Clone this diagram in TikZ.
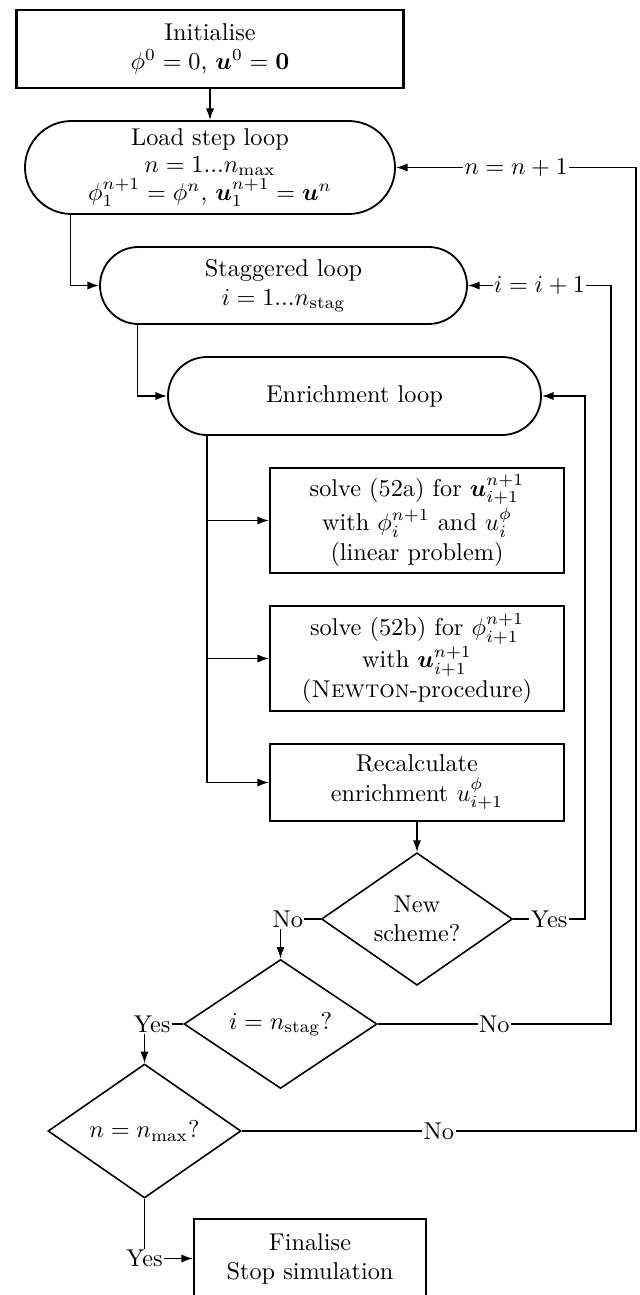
\documentclass[tikz,border=0pt]{standalone}
\usepackage{amsmath,bm}
\usetikzlibrary{shapes.geometric,arrows.meta,calc}
\begin{document}
\begin{tikzpicture}[x=0.4115pt,y=-0.4115pt,
  rectbox/.style={draw,line width=0.85pt,rectangle,inner sep=0pt,align=center},
  loopbox/.style={draw,line width=0.75pt,rectangle,inner sep=0pt,align=center},
  decide/.style={draw,line width=0.65pt,diamond,inner sep=0pt,align=center},
  arr/.style={-{Latex[length=4.8pt,width=3.4pt]},line width=0.65pt},
  lbl/.style={fill=white,inner sep=0.6pt}]
\useasboundingbox (0,0) rectangle (639,1295);

\node[rectbox,minimum width=159.25pt,minimum height=32.1pt] (init) at (210,49)
  {Initialise\\ $\phi^0=0$, $\bm{u}^0=\mathbf{0}$};
\node[loopbox,minimum width=152.26pt,minimum height=38.27pt,rounded corners=19.13pt] (load) at (210,167.5)
  {Load step loop\\[-1pt] $n=1...n_{\max}$\\[-0.5pt] $\phi_1^{n+1}=\phi^n$, $\bm{u}_1^{n+1}=\bm{u}^n$};
\node[loopbox,minimum width=151.02pt,minimum height=31.69pt,rounded corners=15.84pt] (stag) at (283.5,285.5)
  {Staggered loop\\ $i=1...n_{\mathrm{stag}}$};
\node[loopbox,minimum width=153.49pt,minimum height=32.1pt,rounded corners=16.05pt] (enr) at (354.5,396)
  {Enrichment loop};
\node[rectbox,minimum width=120.98pt,minimum height=43.21pt] (s1) at (417,520.5)
  {solve (52a) for $\bm{u}_{i+1}^{n+1}$\\ with $\phi_i^{n+1}$ and $u_i^{\phi}$\\ (linear problem)};
\node[rectbox,minimum width=120.98pt,minimum height=43.21pt] (s2) at (417,658.5)
  {solve (52b) for $\phi_{i+1}^{n+1}$\\ with $\bm{u}_{i+1}^{n+1}$\\ (\textsc{Newton}-procedure)};
\node[rectbox,minimum width=120.98pt,minimum height=31.69pt] (s3) at (417,782.5)
  {Recalculate\\ enrichment $u_{i+1}^{\phi}$};
\node[decide,minimum width=78.6pt,minimum height=52.67pt] (d1) at (417,919)
  {New\\ scheme?};
\node[decide,minimum width=79.42pt,minimum height=53.08pt] (d2) at (280.5,1024)
  {$i=n_{\mathrm{stag}}$?};
\node[decide,minimum width=79.42pt,minimum height=55.14pt] (d3) at (144.5,1131)
  {$n=n_{\max}$?};
\node[rectbox,minimum width=95.47pt,minimum height=32.51pt] (fin) at (310,1258.5)
  {Finalise\\ Stop simulation};

\coordinate (cA) at (585,0);
\coordinate (cB) at (611,0);
\coordinate (cC) at (636,0);

\draw[arr] (init) -- (load);
\draw[arr] ($(load.south west)+(46.5,0)$) |- (stag.west);
\draw[arr] ($(stag.south west)+(38.5,0)$) |- (enr.west);
\coordinate (eb) at ($(enr.south west)+(40,0)$);
\draw[arr] (eb) |- (s3.west);
\draw[arr] (eb |- s1.west) -- (s1.west);
\draw[arr] (eb |- s2.west) -- (s2.west);
\draw[arr] (s3) -- (d1);

\draw[arr] (d1.east) -- node[lbl]{Yes} (d1.east -| cA) -- (enr.east -| cA) -- (enr.east);
\draw[arr] (d1.west) -| node[lbl,pos=0.5,xshift=3pt]{No} (d2.north);
\draw[arr] (d2.east) -- node[lbl]{No} (d2.east -| cB) -- (stag.east -| cB) -- node[lbl]{$i=i+1$} (stag.east);
\draw[arr] (d2.west) -| node[lbl,pos=0.5,xshift=3.2pt]{Yes} (d3.north);
\draw[arr] (d3.east) -- node[lbl]{No} (d3.east -| cC) -- (load.east -| cC) -- node[lbl]{$n=n+1$} (load.east);
\draw[arr] (d3.south) |- node[lbl,pos=0.5]{Yes} (fin.west);
\end{tikzpicture}
\end{document}
